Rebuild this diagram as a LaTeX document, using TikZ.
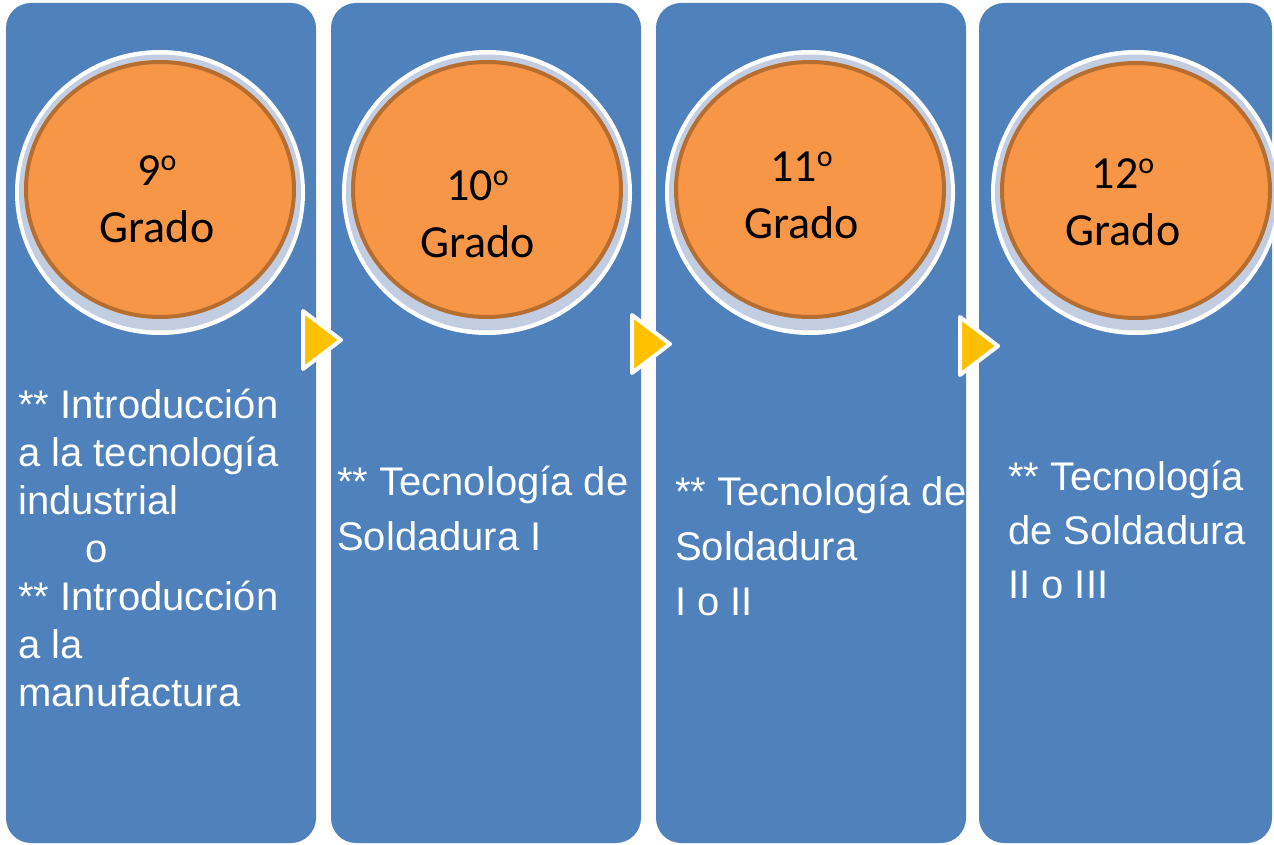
\documentclass[tikz,border=0pt]{standalone}
\usepackage{fontspec}
\setmainfont{Liberation Sans}
\newfontfamily\gradefont{Carlito}
\usetikzlibrary{shapes.geometric}

\definecolor{panelblue}{HTML}{4F81BD}
\definecolor{ringgrey}{HTML}{C2CDE1}
\definecolor{discorange}{HTML}{F79646}
\definecolor{discbrown}{HTML}{B56E30}
\definecolor{pointeryellow}{HTML}{FFC000}

% raised ordinal o
\newcommand{\gradeord}{\raisebox{15pt}{\fontsize{30}{30}\selectfont o}}

\tikzset{
    panel/.style={fill=panelblue, rounded corners=25pt, minimum width=310pt, minimum height=840pt, inner sep=0pt},
    ring/.style={ellipse, fill=white, minimum width=290pt, minimum height=285pt, inner sep=0pt},
    shade/.style={ellipse, fill=ringgrey, minimum width=282pt, minimum height=276pt, inner sep=0pt},
    disc/.style={ellipse, fill=discorange, draw=discbrown, line width=4pt, minimum width=268pt, minimum height=255pt, inner sep=0pt},
    grade/.style={font=\gradefont\fontsize{46}{57}\selectfont, align=center, anchor=north, inner sep=0pt},
    course/.style={text=white, align=left, anchor=base west, inner sep=0pt},
    pointer/.style={fill=pointeryellow, draw=white, line width=4pt, line join=round}
}

\begin{document}
\begin{tikzpicture}[x=1pt, y=-1pt]
    \path[fill=white, use as bounding box] (0,0) rectangle (1274,845);

    % Panels
    \node[panel] (p1) at (161,423) {};
    \node[panel] (p2) at (486,423) {};
    \node[panel] (p3) at (811,423) {};
    \node[panel, minimum width=293pt] (p4) at (1125.5,423) {};

    % Grade discs
    \node[ring] (r1) at (160,192.5) {};
    \node[shade] (s1) at (160,192.5) {};
    \node[disc] (d1) at (160,189.5) {};
    \node[ring] (r2) at (487,192.5) {};
    \node[shade] (s2) at (487,192.5) {};
    \node[disc] (d2) at (487,189.5) {};
    \node[ring] (r3) at (810,192.5) {};
    \node[shade] (s3) at (810,192.5) {};
    \node[disc] (d3) at (810,189.5) {};
    \node[ring] (r4) at (1136,192.5) {};
    \node[shade] (s4) at (1136,192.5) {};
    \node[disc] (d4) at (1136,190.5) {};

    \node[grade] (g1) at (157,155) {9\gradeord\\Grado};
    \node[grade] (g2) at (477.5,170) {10\gradeord\\Grado};
    \node[grade] (g3) at (801.5,152) {11\gradeord\\Grado};
    \node[grade] (g4) at (1123,158) {12\gradeord\\Grado};

    % Pointers between panels
    \filldraw[pointer] (303,311) -- (341,340) -- (303,369) -- cycle;
    \filldraw[pointer] (632,315) -- (670,344) -- (632,373) -- cycle;
    \filldraw[pointer] (960,317) -- (998,346) -- (960,375) -- cycle;

    % Courses
    \node[course, font=\fontsize{40}{48}\selectfont] (c1) at (18,706)
        {** Introducción\\a la tecnología\\industrial\\\hspace*{67pt}o\\** Introducción\\a la\\manufactura};
    \node[course, font=\fontsize{40}{55}\selectfont] (c2) at (337,550)
        {** Tecnología de\\Soldadura I};
    \node[course, font=\fontsize{40}{55}\selectfont] (c3) at (675,615)
        {** Tecnología de\\Soldadura\\I o II};
    \node[course, font=\fontsize{40}{54}\selectfont] (c4) at (1008,598)
        {** Tecnología\\de Soldadura\\II o III};
\end{tikzpicture}
\end{document}
